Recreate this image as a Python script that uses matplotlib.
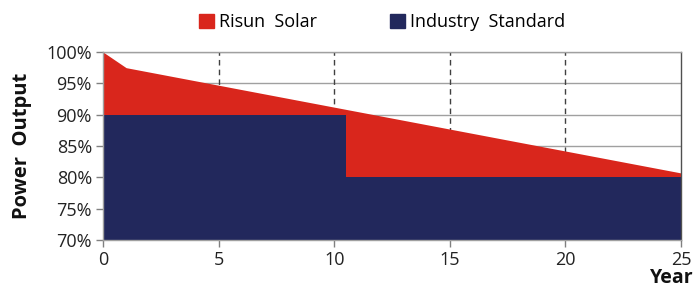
import matplotlib
matplotlib.use("Agg")
import matplotlib.pyplot as plt
from matplotlib.patches import Rectangle

plt.rcParams['font.family'] = ['Open Sans', 'DejaVu Sans']

risun_years = [0, 1, 25]
risun_values = [100, 97.5, 80.7]
std_years = [0, 10.5, 10.5, 25]
std_values = [90, 90, 80, 80]
x_ticks = [0, 5, 10, 15, 20, 25]
y_ticks = [70, 75, 80, 85, 90, 95, 100]
y_labels = ["70%", "75%", "80%", "85%", "90%", "95%", "100%"]
series_names = ["Risun  Solar", "Industry  Standard"]
colors = ["#D9261C", "#22285C"]

fig = plt.figure(figsize=(6.96, 2.87), dpi=100)
ax = fig.add_axes([103/696, 1-240/287, 578/696, 188/287])

ax.set_xlim(0, 25)
ax.set_ylim(70, 100)

for y in y_ticks[1:]:
    ax.axhline(y, color="#A0A0A0", lw=1.0, zorder=0)
for x in x_ticks[1:-1]:
    ax.axvline(x, color="#404040", lw=1.0, ls=(0, (4, 3)), zorder=0)

ax.fill_between(risun_years, 70, risun_values, color=colors[0], lw=0, zorder=1)
ax.fill_between(std_years, 70, std_values, color=colors[1], lw=0, zorder=2)

ax.set_xticks(x_ticks)
ax.set_yticks(y_ticks)
ax.set_yticklabels(y_labels)
ax.tick_params(axis='both', labelsize=13, length=5, width=1, colors="#222222", pad=3)
ax.tick_params(axis='both', color="#808080")
for s in ["left", "bottom", "top"]:
    ax.spines[s].set_color("#A0A0A0")
    ax.spines[s].set_linewidth(1)
ax.spines["right"].set_color("#505050")
ax.spines["right"].set_linewidth(1)

ax.set_ylabel("Power  Output", fontsize=14.5, fontweight="bold", labelpad=10, color="#111111")
fig.text(694/696, 4/287, "Year", ha="right", va="baseline", fontsize=14, fontweight="bold", color="#111111")

# legend
handles = [Rectangle((0, 0), 1, 1, color=c) for c in colors]
leg = fig.legend(handles, series_names, loc="center", bbox_to_anchor=(382/696, 1-22/287),
                 ncol=2, frameon=False, fontsize=13, handlelength=0.85, handleheight=0.85,
                 handletextpad=0.3, columnspacing=4.0)

fig.savefig("out.png", dpi=100)
